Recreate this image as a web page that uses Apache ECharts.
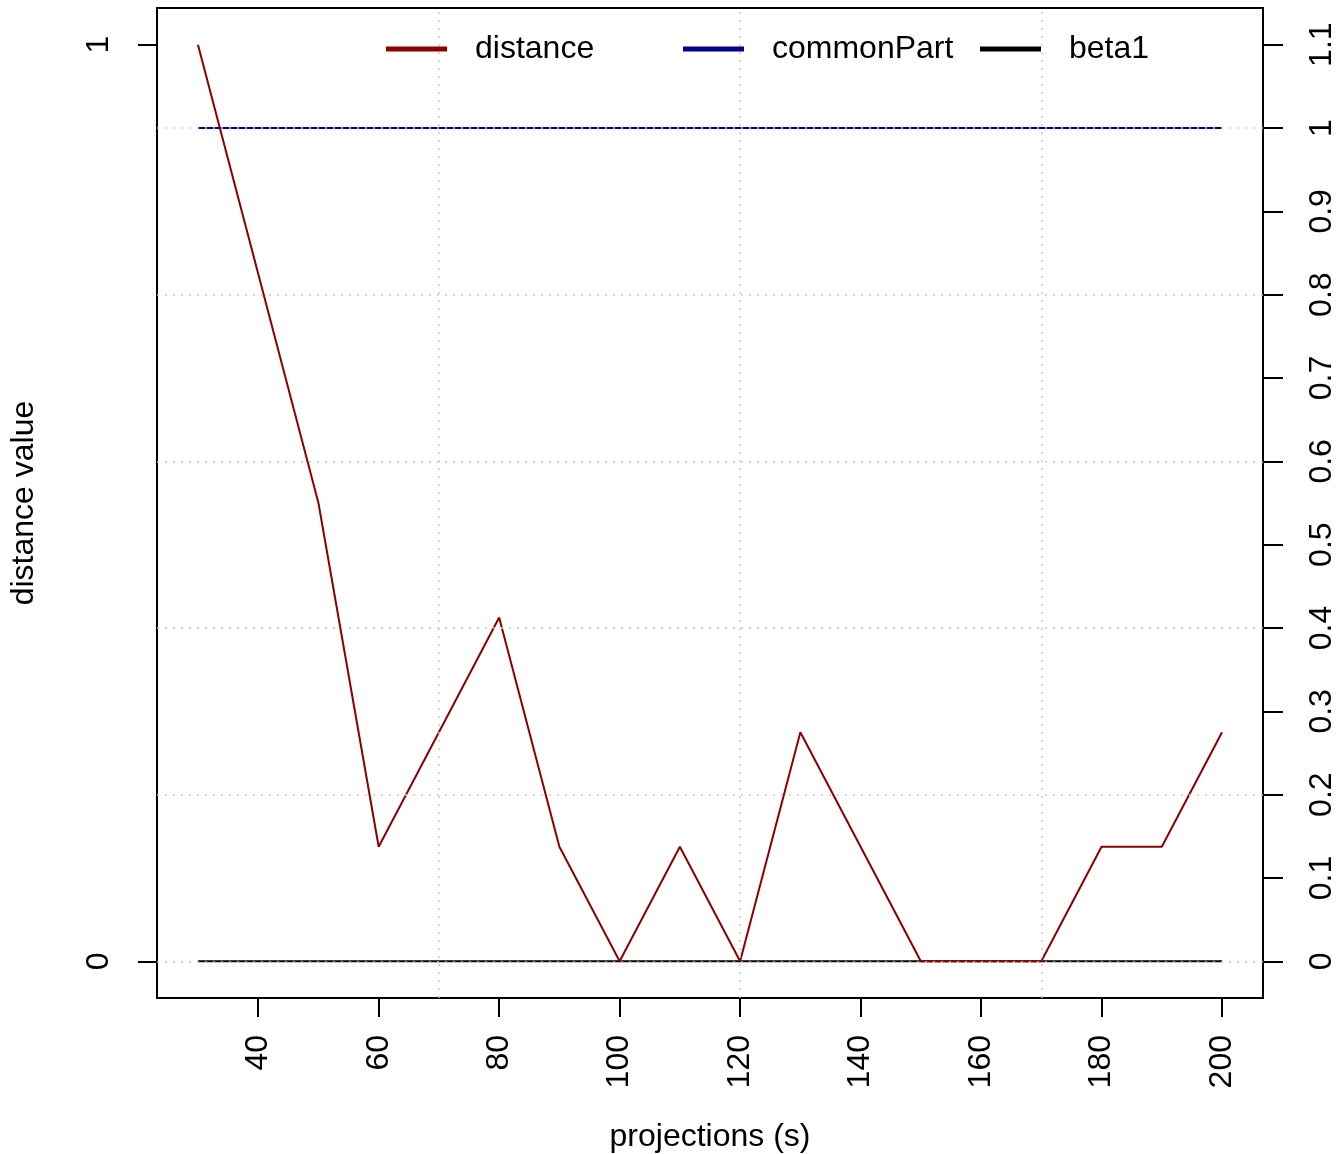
<!DOCTYPE html>
<html>
<head>
<meta charset="utf-8">
<script src="https://cdn.jsdelivr.net/npm/echarts@6/dist/echarts.min.js"></script>
<style>
html,body{margin:0;padding:0;background:#fff;}
#chart{width:1344px;height:1154px;}
</style>
</head>
<body>
<div id="chart"></div>
<script>
// ---- data ----
const projections = [30, 40, 50, 60, 70, 80, 90, 100, 110, 120, 130, 140, 150, 160, 170, 180, 190, 200];
const distance    = [1, 0.75, 0.5, 0.125, 0.25, 0.375, 0.125, 0, 0.125, 0, 0.25, 0.125, 0, 0, 0, 0.125, 0.125, 0.25];
const commonPart  = [1, 1, 1, 1, 1, 1, 1, 1, 1, 1, 1, 1, 1, 1, 1, 1, 1, 1];
const beta1       = [0, 0, 0, 0, 0, 0, 0, 0, 0, 0, 0, 0, 0, 0, 0, 0, 0, 0];
const xTicks      = [40, 60, 80, 100, 120, 140, 160, 180, 200];
const leftTicks   = [0, 1];
const rightTicks  = [0, 0.1, 0.2, 0.3, 0.4, 0.5, 0.6, 0.7, 0.8, 0.9, 1, 1.1];
const gridX       = [70, 120, 170];
const gridY       = [0, 0.2, 0.4, 0.6, 0.8, 1];

const FONT = "'Liberation Sans', Arial, sans-serif";
const pairs = (ys) => projections.map((x, i) => [x, ys[i]]);

const chart = echarts.init(document.getElementById('chart'), null, {renderer: 'canvas'});

const legendCommon = {
  orient: 'horizontal', top: 33, padding: 0,
  icon: 'rect', itemWidth: 61, itemHeight: 5,
  textStyle: {fontSize: 32, fontFamily: FONT, color: '#000', padding: [0, 0, 0, 23]},
  selectedMode: false
};

const option = {
  animation: false,
  backgroundColor: '#fff',
  textStyle: {fontFamily: FONT},
  grid: {left: 157, right: 81, top: 8, bottom: 156, show: true, borderColor: '#000', borderWidth: 2,
         backgroundColor: 'transparent', containLabel: false, outerBoundsMode: 'none'},
  legend: [
    Object.assign({}, legendCommon, {left: 386, data: ['distance']}),
    Object.assign({}, legendCommon, {left: 683, data: ['commonPart']}),
    Object.assign({}, legendCommon, {left: 980, data: ['beta1']})
  ],
  xAxis: {
    type: 'value', min: 23.2, max: 206.8, position: 'bottom',
    name: 'projections (s)', nameLocation: 'middle', nameGap: 123,
    nameTextStyle: {fontSize: 32, fontFamily: FONT, color: '#000'},
    axisLine: {show: false, onZero: false},
    axisTick: {show: true, customValues: xTicks, length: 19, inside: false, lineStyle: {color: '#000', width: 2}},
    axisLabel: {customValues: xTicks, rotate: 90, margin: 37, fontSize: 32, fontFamily: FONT, color: '#000'},
    splitLine: {show: false}
  },
  yAxis: [
    {
      type: 'value', min: -0.04, max: 1.04, position: 'left',
      name: 'distance value', nameLocation: 'middle', nameGap: 117,
      nameTextStyle: {fontSize: 32, fontFamily: FONT, color: '#000'},
      axisLine: {show: false, onZero: false},
      axisTick: {show: true, customValues: leftTicks, length: 19, lineStyle: {color: '#000', width: 2}},
      axisLabel: {customValues: leftTicks, rotate: 90, margin: 42, fontSize: 32, fontFamily: FONT, color: '#000',
        formatter: v => String(v)},
      splitLine: {show: false}
    },
    {
      type: 'value', min: -0.044, max: 1.144, position: 'right',
      axisLine: {show: false, onZero: false},
      axisTick: {show: true, customValues: rightTicks, length: 20, lineStyle: {color: '#000', width: 2}},
      axisLabel: {customValues: rightTicks, rotate: 90, margin: 43, fontSize: 32, fontFamily: FONT, color: '#000',
        formatter: v => String(+(+v).toFixed(1))},
      splitLine: {show: false}
    }
  ],
  series: [
    {
      name: 'commonPart', type: 'line', yAxisIndex: 1, data: pairs(commonPart),
      showSymbol: false, symbol: 'none', z: 2,
      lineStyle: {color: '#00008B', width: 2}, itemStyle: {color: '#00008B'}
    },
    {
      name: 'beta1', type: 'line', yAxisIndex: 1, data: pairs(beta1),
      showSymbol: false, symbol: 'none', z: 3,
      lineStyle: {color: '#000000', width: 2}, itemStyle: {color: '#000000'}
    },
    {
      name: 'distance', type: 'line', yAxisIndex: 0, data: pairs(distance),
      showSymbol: false, symbol: 'none', z: 4,
      lineStyle: {color: '#8B0000', width: 2}, itemStyle: {color: '#8B0000'}
    },
    {
      name: 'gridlines', type: 'line', yAxisIndex: 1, data: [], z: 10,
      markLine: {
        silent: true, symbol: 'none', animation: false,
        label: {show: false},
        lineStyle: {color: '#C8C8C8', width: 1.5, type: [2, 6]},
        data: gridY.map(v => ({yAxis: v})).concat(gridX.map(v => ({xAxis: v})))
      }
    }
  ]
};
chart.setOption(option);
</script>
</body>
</html>
